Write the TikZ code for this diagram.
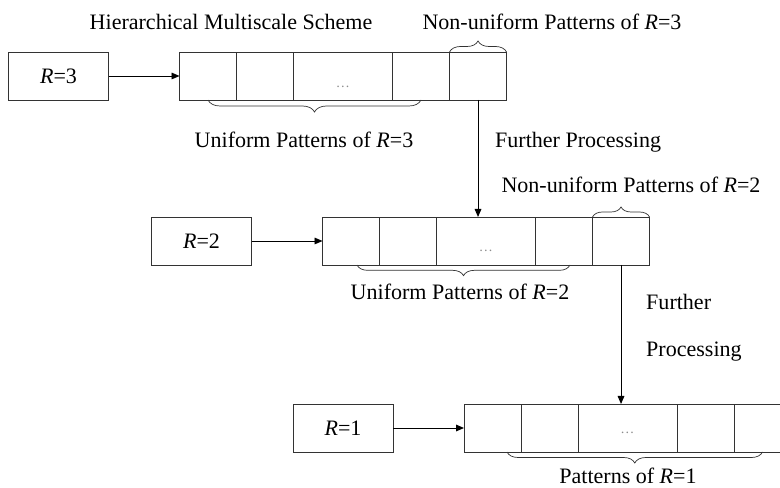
\documentclass[tikz,border=0pt]{standalone}
\usepackage{fontspec}
\setmainfont{Liberation Serif}
\usetikzlibrary{positioning,arrows.meta,decorations.pathreplacing}

\begin{document}
\begin{tikzpicture}[
  x=0.03cm, y=-0.03cm,
  font=\fontsize{18.8}{22}\selectfont,
  >={Triangle[length=2.4mm,width=2mm]},
  rbox/.style={draw=black!80, line width=0.8pt, minimum width=3cm, minimum height=1.44cm,
               inner sep=0pt, outer sep=0pt},
  cell/.style={draw=black!80, line width=0.8pt, minimum width=1.71cm, minimum height=1.44cm,
               inner sep=0pt, outer sep=0pt},
  wcell/.style={cell, minimum width=2.97cm},
  feed/.style={->, line width=0.8pt},
  brc/.style={decorate, decoration={brace, amplitude=#1}, draw=black!80, line width=0.6pt},
  dots/.style={font=\fontsize{12}{14}\selectfont, text=black!45, inner sep=0pt},
  lbl/.style={inner sep=0pt},
  node distance=0pt and 2.13cm,
]
\useasboundingbox (0,0) rectangle (780,488);
\clip (0,0) rectangle (780,488);

% ---- R=3 ----
\node[rbox] (r3) at (58.5,76) {\textit{R}=3};
\node[cell, right=of r3] (a1) {};
\node[cell, right=0pt of a1] (a2) {};
\node[wcell, right=0pt of a2] (a3) {};
\node[cell, right=0pt of a3] (a4) {};
\node[cell, right=0pt of a4] (a5) {};
\node[dots] (d3) at ([yshift=-0.33cm]a3.center) {\dots};

% ---- R=2 ----
\node[rbox] (r2) at (201.5,241) {\textit{R}=2};
\node[cell, right=of r2] (b1) {};
\node[cell, right=0pt of b1] (b2) {};
\node[wcell, right=0pt of b2] (b3) {};
\node[cell, right=0pt of b3] (b4) {};
\node[cell, right=0pt of b4] (b5) {};
\node[dots] (d2) at ([yshift=-0.3cm]b3.center) {\dots};

% ---- R=1 ----
\node[rbox] (r1) at (343,428) {\textit{R}=1};
\node[cell, right=of r1] (c1) {};
\node[cell, right=0pt of c1] (c2) {};
\node[wcell, right=0pt of c2] (c3) {};
\node[cell, right=0pt of c3] (c4) {};
\node[cell, right=0pt of c4] (c5) {};
\node[dots] (d1) at ([yshift=-0.15cm]c3.center) {\dots};

% ---- connectors ----
\draw[feed] (r3) -- (a1);
\draw[feed] (r2) -- (b1);
\draw[feed] (r1) -- (c1);
\draw[feed] (a5.south) -- (a5.south |- b3.north);
\draw[feed] (b5.south) -- (b5.south |- c3.north);

% ---- braces ----
\draw[brc=0.33cm] (a5.north west) -- (a5.north east);
\draw[brc=0.36cm] (a4.south) -- (a1.south);
\draw[brc=0.3cm] (b5.north west) -- (b5.north east);
\draw[brc=0.32cm] ([xshift=0.18cm]b4.south) -- ([xshift=0.18cm]b1.south);
\draw[brc=0.33cm] (c5.south) -- ([xshift=0.435cm]c1.south);

% ---- labels ----
\node[lbl] (title) at (231,22) {Hierarchical Multiscale Scheme};
\node[lbl] (nu3) at (552,22) {Non-uniform Patterns of \textit{R}=3};
\node[lbl] (u3) at (304,140) {Uniform Patterns of \textit{R}=3};
\node[lbl, anchor=west] (fp3) at (495,142) {Further Processing};
\node[lbl] (nu2) at (631,185) {Non-uniform Patterns of \textit{R}=2};
\node[lbl] (u2) at (460,292) {Uniform Patterns of \textit{R}=2};
\node[lbl, anchor=west, align=left] (fp2) at (646,328) {Further\\[18pt]Processing};
\node[lbl] (p1) at (628,476) {Patterns of \textit{R}=1};
\end{tikzpicture}
\end{document}
